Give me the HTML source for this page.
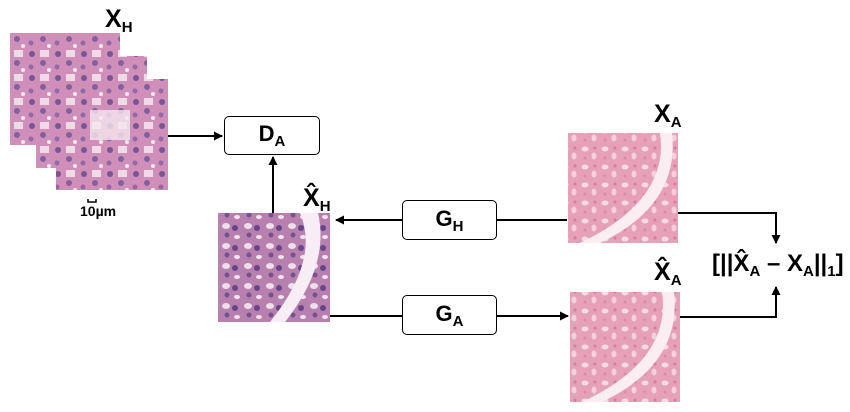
<!DOCTYPE html>
<html><head><meta charset="utf-8"><style>
body{margin:0;width:850px;height:412px;background:#fff;position:relative;overflow:hidden;font-family:"Liberation Sans",sans-serif;font-weight:bold;color:#000}
.a{position:absolute}
.box{position:absolute;border:1.5px solid #000;border-radius:5px;background:#fff;text-align:center;font-size:22px;box-sizing:border-box}
sub{font-size:15px;vertical-align:-5px}
.lbl{position:absolute;font-size:25px}
</style></head><body>
<svg class="a" style="left:0;top:0" width="850" height="412">
<defs>
<pattern id="he" width="26" height="24" patternUnits="userSpaceOnUse">
<rect width="26" height="24" fill="#cf8fb8"/>
<rect x="14" y="2" width="9" height="7" fill="#efdbe8"/>
<circle cx="6" cy="6" r="3" fill="#7a5596"/><circle cx="17" cy="15" r="3" fill="#84609f"/>
<circle cx="5" cy="19" r="2.5" fill="#9068a5"/><circle cx="23" cy="22" r="2" fill="#f4e8f0"/>
</pattern>
<pattern id="hh" width="22" height="20" patternUnits="userSpaceOnUse">
<rect width="22" height="20" fill="#b880ae"/>
<ellipse cx="6" cy="6" rx="4" ry="3" fill="#eedfea"/><circle cx="15" cy="8" r="3" fill="#664689"/>
<circle cx="7" cy="15" r="2.5" fill="#74528f"/><ellipse cx="17" cy="17" rx="3" ry="2" fill="#f0e4ee"/>
</pattern>
<pattern id="pa" width="20" height="18" patternUnits="userSpaceOnUse">
<rect width="20" height="18" fill="#e6a0b7"/>
<ellipse cx="5" cy="5" rx="3.5" ry="2.5" fill="#f6dbe4"/><ellipse cx="14" cy="12" rx="2.5" ry="3.5" fill="#f3d0dc"/>
<circle cx="15" cy="4" r="1.5" fill="#d77c9a"/><circle cx="5" cy="14" r="1.5" fill="#db8ba5"/>
</pattern>
<marker id="ar" markerUnits="userSpaceOnUse" markerWidth="9" markerHeight="9" refX="8" refY="4.5" orient="auto"><path d="M0,0 L9,4.5 L0,9 z" fill="#000"/></marker>
</defs>
<g>
<rect x="10" y="33" width="110" height="112" fill="url(#he)"/>
<rect x="36" y="56" width="111" height="112" fill="url(#he)"/>
<rect x="56" y="79" width="112" height="111" fill="url(#he)"/>
<rect x="90" y="110" width="40" height="30" fill="#f4e6ee" opacity=".8"/>
</g>
<rect x="218" y="213" width="112" height="109" fill="url(#hh)"/>
<path d="M300 213 Q320 260 270 322 L285 322 Q330 265 318 213z" fill="#f6eef4"/>
<rect x="568" y="133" width="110" height="110" fill="url(#pa)"/>
<path d="M660 133 Q670 200 580 243 L600 243 Q680 205 672 133z" fill="#fbeef2"/>
<rect x="570" y="292" width="110" height="110" fill="url(#pa)"/>
<path d="M662 292 Q672 360 582 402 L602 402 Q682 364 674 292z" fill="#fbeef2"/>
<path d="M88 199 v3 h8 v-3" stroke="#000" stroke-width="1.5" fill="none"/>
<g stroke="#000" stroke-width="2" fill="none">
<line x1="168" y1="136" x2="222" y2="136" marker-end="url(#ar)"/>
<line x1="273" y1="213" x2="273" y2="157" marker-end="url(#ar)"/>
<line x1="402" y1="220" x2="336" y2="220" marker-end="url(#ar)"/>
<line x1="567" y1="220" x2="497" y2="220"/>
<line x1="330" y1="316" x2="402" y2="316"/>
<line x1="497" y1="316" x2="568" y2="316" marker-end="url(#ar)"/>
<polyline points="678,213 776,213 776,243" marker-end="url(#ar)"/>
<polyline points="680,317 776,317 776,287" marker-end="url(#ar)"/>
</g>
</svg>
<div class="lbl" style="left:105px;top:5px">X<sub>H</sub></div>
<div class="a" style="left:80px;top:203px;font-size:14px">10µm</div>
<div class="box" style="left:224px;top:116px;width:96px;height:39px;line-height:34px">D<sub>A</sub></div>
<div class="lbl" style="left:303px;top:184px">X̂<sub>H</sub></div>
<div class="box" style="left:402px;top:200px;width:95px;height:40px;line-height:35px">G<sub>H</sub></div>
<div class="box" style="left:402px;top:295px;width:95px;height:40px;line-height:35px">G<sub>A</sub></div>
<div class="lbl" style="left:654px;top:100px">X<sub>A</sub></div>
<div class="lbl" style="left:654px;top:258px">X̂<sub>A</sub></div>
<div class="lbl" style="left:712px;top:250px;font-size:24px;white-space:nowrap">[||X̂<sub>A</sub> – X<sub>A</sub>||<sub>1</sub>]</div>
</body></html>
